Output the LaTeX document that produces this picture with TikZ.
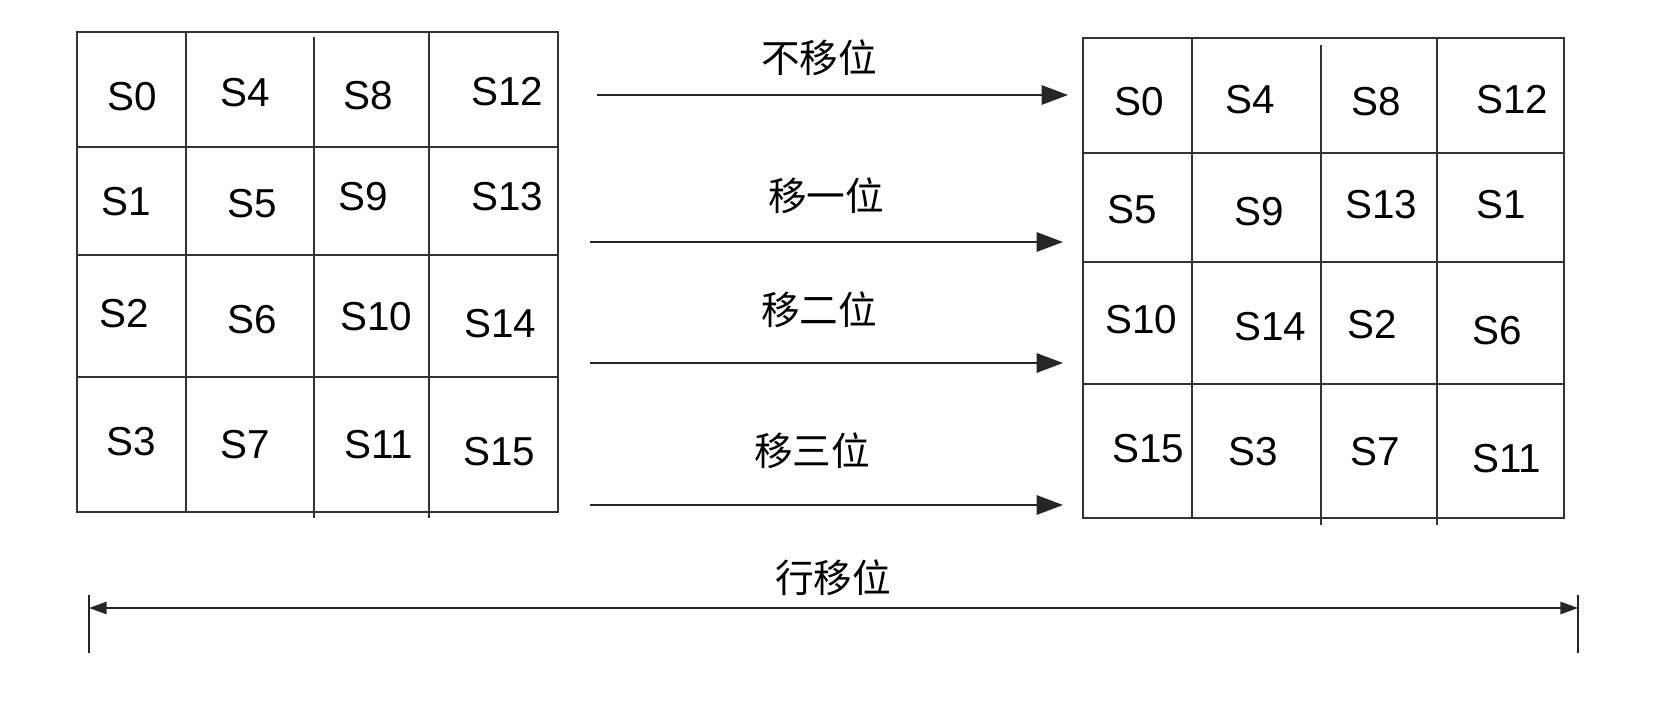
\documentclass[tikz,border=0pt]{standalone}
\usepackage{fontspec}
\setmainfont{Liberation Sans}
\newfontfamily\cjk{Noto Sans CJK SC}
\usetikzlibrary{arrows.meta}
\tikzset{
  gridline/.style={black!80, line width=1.1pt},
  cell/.style={inner sep=0pt, font=\fontsize{23}{27}\selectfont},
  shiftlabel/.style={inner sep=0pt, font=\cjk\fontsize{22}{26}\selectfont},
  shiftarrow/.style={black!85, line width=1.1pt, -{Triangle[length=15pt, width=11pt]}},
}

\begin{document}
\begin{tikzpicture}[x=0.02cm, y=-0.02cm]
  \useasboundingbox (0,0) rectangle (1654,724);
  % left state matrix
  \draw[gridline] (77,32) rectangle (558,512);
  \draw[gridline] (77,147) -- (558,147);
  \draw[gridline] (77,255) -- (558,255);
  \draw[gridline] (77,377) -- (558,377);
  \draw[gridline] (186,32) -- (186,512);
  \draw[gridline] (314,37) -- (314,518);
  \draw[gridline] (429,32) -- (429,518);
  \foreach \t/\x/\y in {S0/132/97, S4/245/93, S8/368/96, S12/507/92,
                        S1/126/202, S5/252/204, S9/363/197, S13/507/197,
                        S2/124/314, S6/252/320, S10/376/317, S14/500/324,
                        S3/131/442, S7/245/445, S11/379/445, S15/499/452}
    \node[cell] (L\t) at (\x,\y) {\t};
  % right state matrix, after the shift
  \draw[gridline] (1083,38) rectangle (1564,518);
  \draw[gridline] (1083,153) -- (1564,153);
  \draw[gridline] (1083,262) -- (1564,262);
  \draw[gridline] (1083,384) -- (1564,384);
  \draw[gridline] (1192,38) -- (1192,518);
  \draw[gridline] (1321,45) -- (1321,525);
  \draw[gridline] (1437,38) -- (1437,525);
  \foreach \t/\x/\y in {S0/1139/102, S4/1250/100, S8/1376/102, S12/1512/100,
                        S5/1132/210, S9/1259/212, S13/1381/205, S1/1501/205,
                        S10/1141/320, S14/1270/327, S2/1372/325, S6/1497/331,
                        S15/1148/449, S3/1253/452, S7/1375/452, S11/1507/459}
    \node[cell] (R\t) at (\x,\y) {\t};
  % one arrow per row
  \coordinate (a0) at (597,95);  \coordinate (b0) at (1068,95);
  \coordinate (a1) at (590,242); \coordinate (b1) at (1063,242);
  \coordinate (a2) at (590,363); \coordinate (b2) at (1063,363);
  \coordinate (a3) at (590,505); \coordinate (b3) at (1063,505);
  \draw[shiftarrow] (a0) -- (b0);
  \draw[shiftarrow] (a1) -- (b1);
  \draw[shiftarrow] (a2) -- (b2);
  \draw[shiftarrow] (a3) -- (b3);
  \node[shiftlabel] (k0) at (819,58) {不移位};
  \node[shiftlabel] (k1) at (826,196) {移一位};
  \node[shiftlabel] (k2) at (819,310) {移二位};
  \node[shiftlabel] (k3) at (812,451) {移三位};
  % whole-width span
  \coordinate (spanl) at (89,608);
  \coordinate (spanr) at (1578,608);
  \draw[black!85, line width=0.9pt] (89,595) -- (89,653);
  \draw[black!85, line width=0.9pt] (1578,595) -- (1578,653);
  \draw[black!85, line width=1.1pt, {Triangle[length=10pt, width=7pt]}-{Triangle[length=10pt, width=7pt]}] (spanl) -- (spanr);
  \node[shiftlabel] (span) at (833,578) {行移位};
\end{tikzpicture}
\end{document}
